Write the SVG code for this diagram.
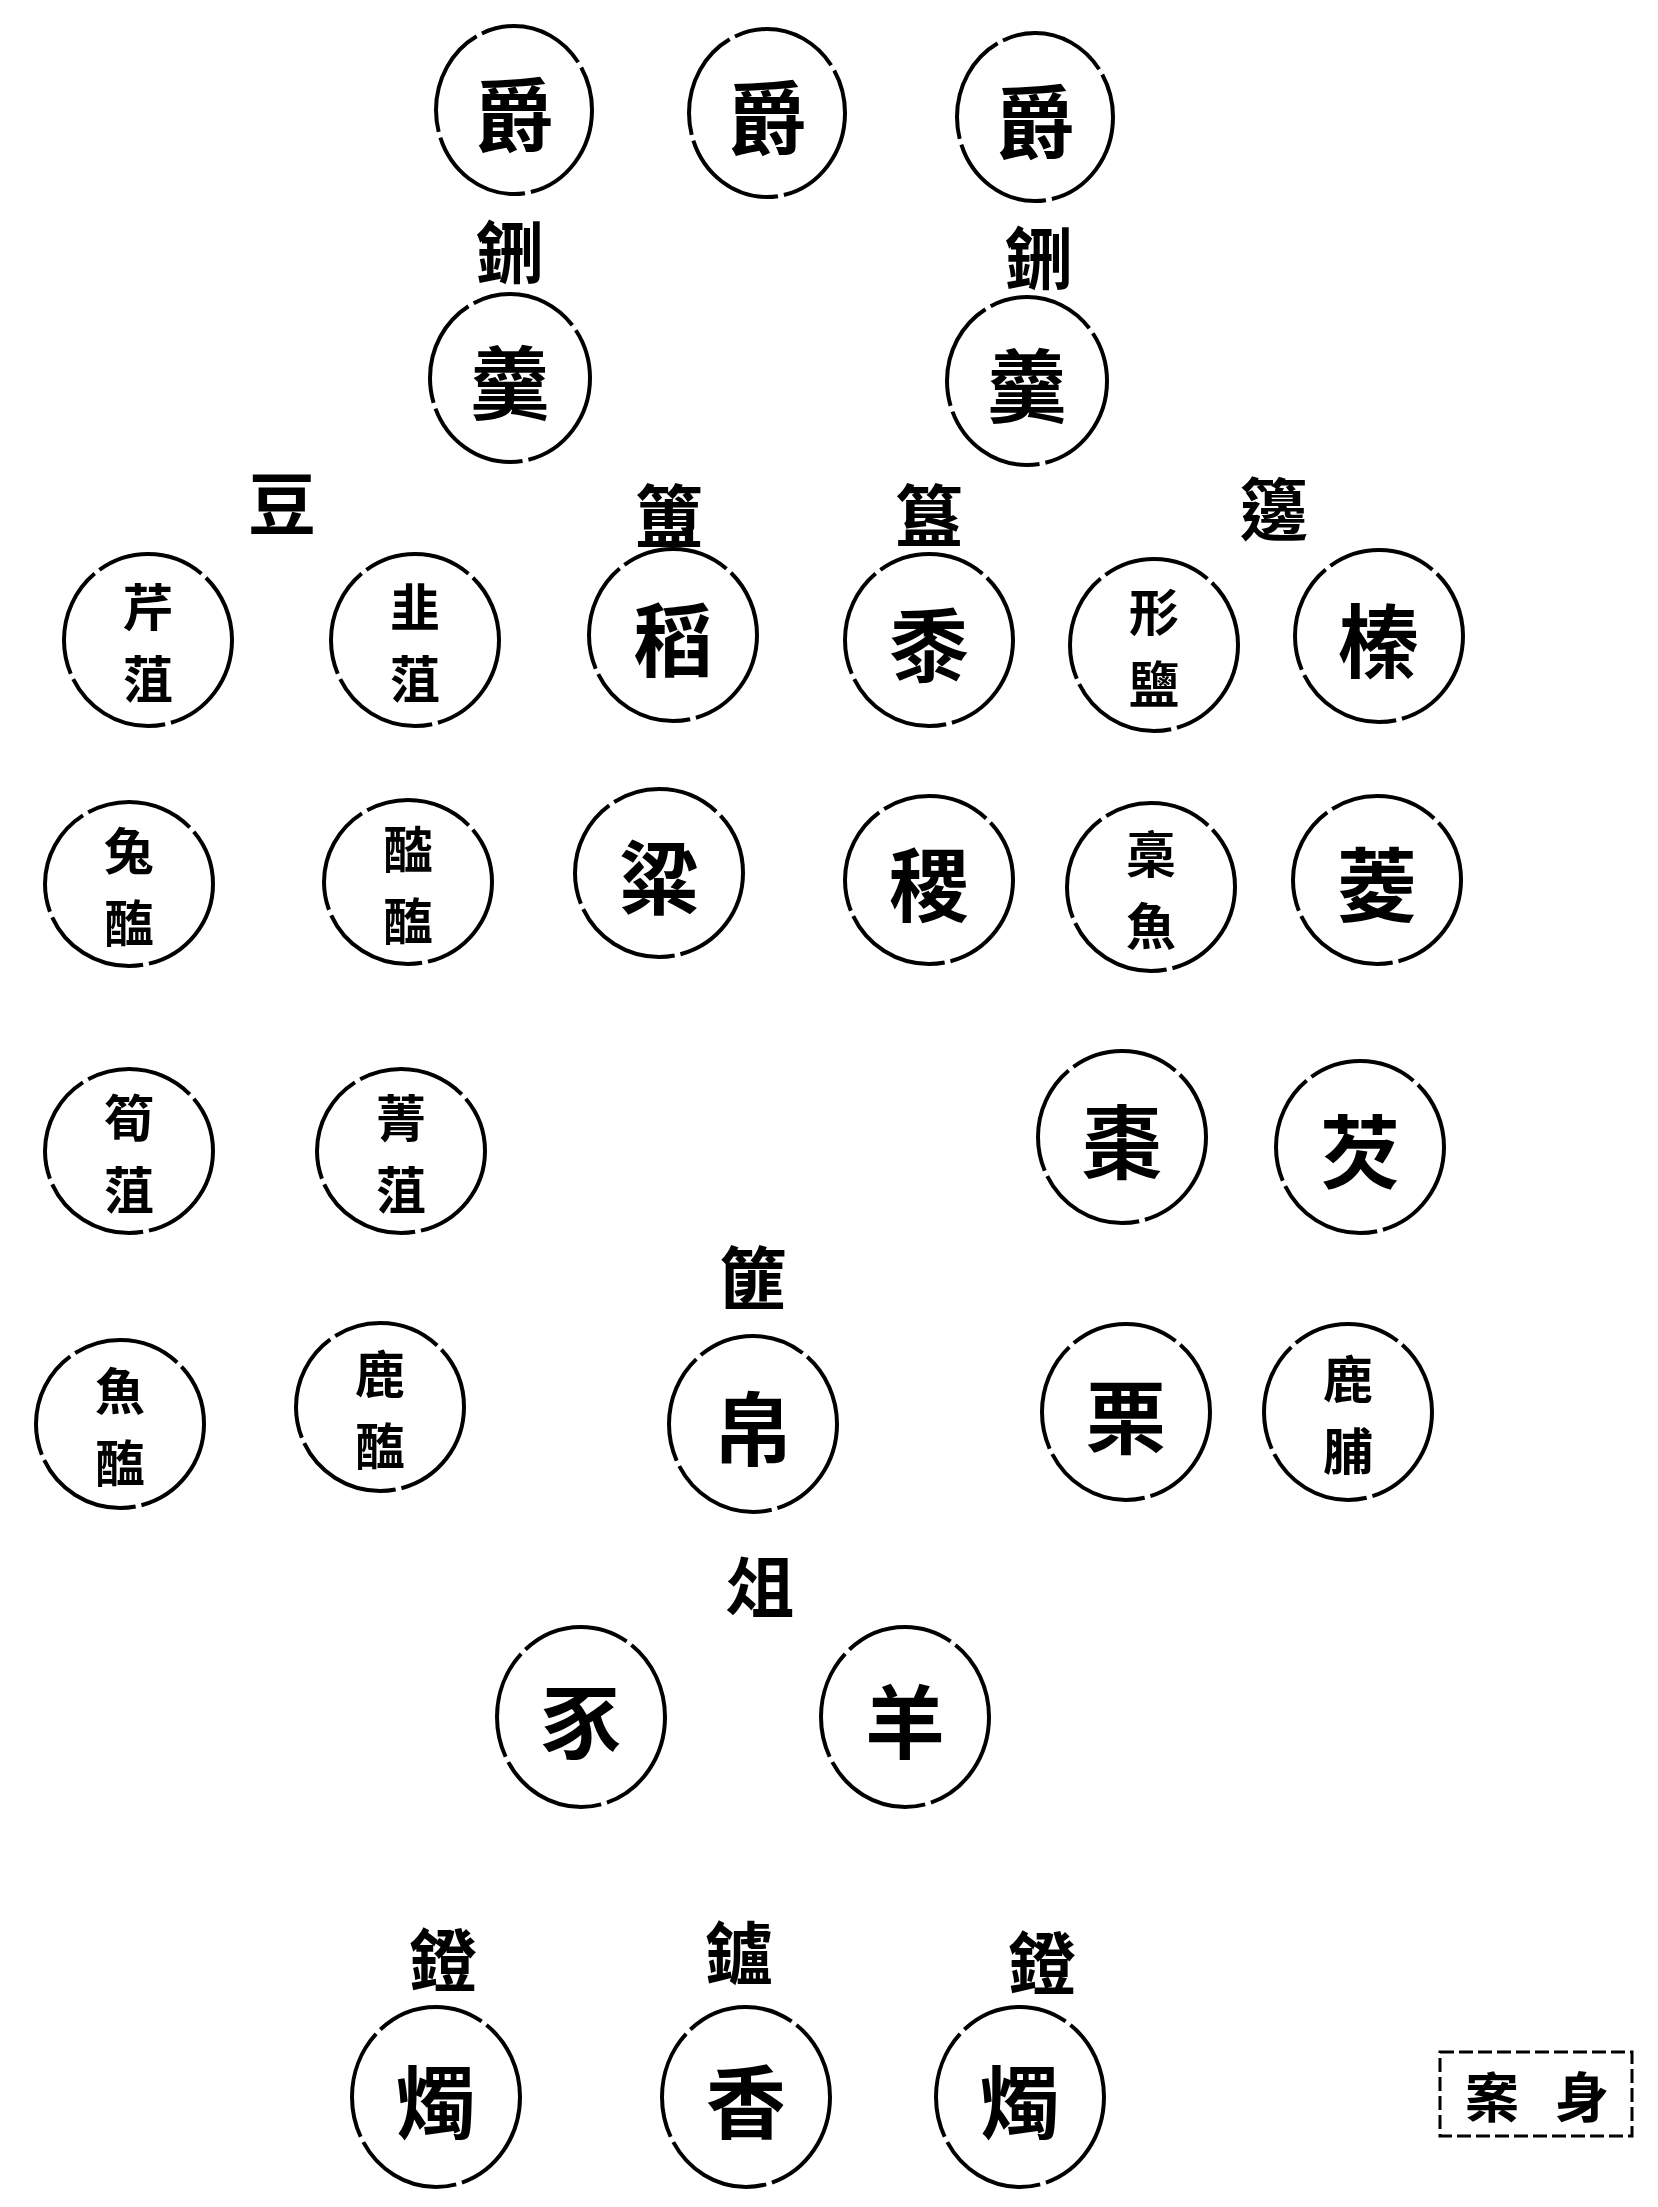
<svg xmlns="http://www.w3.org/2000/svg" width="1658" height="2207" viewBox="0 0 1658 2207">
<style>
.c{fill:none;stroke:#000;stroke-width:4;stroke-dasharray:110 6}
.t{font-family:"Noto Sans CJK TC","Noto Sans CJK SC",sans-serif;font-weight:700;fill:#000;text-anchor:middle;dominant-baseline:central}
.s{font-size:80px}
.d{font-size:50px}
.l{font-size:68px}
</style>
<rect width="1658" height="2207" fill="#fff"/>
<g id="connectors"></g>
<g id="jue1"><ellipse class="c" cx="514" cy="110" rx="78" ry="84"/><text class="t s" x="514" y="110">爵</text></g>
<g id="jue2"><ellipse class="c" cx="767" cy="113" rx="78" ry="84"/><text class="t s" x="767" y="113">爵</text></g>
<g id="jue3"><ellipse class="c" cx="1035" cy="117" rx="78" ry="84"/><text class="t s" x="1035" y="117">爵</text></g>
<g id="label-xing1"><text class="t l" x="510" y="248">鉶</text></g>
<g id="label-xing2"><text class="t l" x="1039" y="254">鉶</text></g>
<g id="geng1"><ellipse class="c" cx="510" cy="378" rx="80" ry="84"/><text class="t s" x="510" y="378">羹</text></g>
<g id="geng2"><ellipse class="c" cx="1027" cy="381" rx="80" ry="84"/><text class="t s" x="1027" y="381">羹</text></g>
<g id="label-dou"><text class="t l" x="282" y="500">豆</text></g>
<g id="label-fu"><text class="t l" x="669" y="512">簠</text></g>
<g id="label-gui"><text class="t l" x="929" y="512">簋</text></g>
<g id="label-bian"><text class="t l" x="1274" y="505">籩</text></g>
<g id="qinzu"><ellipse class="c" cx="148" cy="640" rx="84" ry="86"/><text class="t d" x="148" y="604">芹</text><text class="t d" x="148" y="676">菹</text></g>
<g id="jiuzu"><ellipse class="c" cx="415" cy="640" rx="84" ry="86"/><text class="t d" x="415" y="604">韭</text><text class="t d" x="415" y="676">菹</text></g>
<g id="dao"><ellipse class="c" cx="673" cy="635" rx="84" ry="86"/><text class="t s" x="673" y="635">稻</text></g>
<g id="shu"><ellipse class="c" cx="929" cy="640" rx="84" ry="86"/><text class="t s" x="929" y="640">黍</text></g>
<g id="xingyan"><ellipse class="c" cx="1154" cy="645" rx="84" ry="86"/><text class="t d" x="1154" y="609">形</text><text class="t d" x="1154" y="681">鹽</text></g>
<g id="zhen"><ellipse class="c" cx="1379" cy="636" rx="84" ry="86"/><text class="t s" x="1379" y="636">榛</text></g>
<g id="tuhai"><ellipse class="c" cx="129" cy="884" rx="84" ry="82"/><text class="t d" x="129" y="848">兔</text><text class="t d" x="129" y="920">醢</text></g>
<g id="tanhai"><ellipse class="c" cx="408" cy="882" rx="84" ry="82"/><text class="t d" x="408" y="846">醓</text><text class="t d" x="408" y="918">醢</text></g>
<g id="liang"><ellipse class="c" cx="659" cy="873" rx="84" ry="84"/><text class="t s" x="659" y="873">粱</text></g>
<g id="ji"><ellipse class="c" cx="929" cy="880" rx="84" ry="84"/><text class="t s" x="929" y="880">稷</text></g>
<g id="gaoyu"><ellipse class="c" cx="1151" cy="887" rx="84" ry="84"/><text class="t d" x="1151" y="851">槀</text><text class="t d" x="1151" y="923">魚</text></g>
<g id="ling"><ellipse class="c" cx="1377" cy="880" rx="84" ry="84"/><text class="t s" x="1377" y="880">菱</text></g>
<g id="sunzu"><ellipse class="c" cx="129" cy="1151" rx="84" ry="82"/><text class="t d" x="129" y="1115">筍</text><text class="t d" x="129" y="1187">菹</text></g>
<g id="jingzu"><ellipse class="c" cx="401" cy="1151" rx="84" ry="82"/><text class="t d" x="401" y="1115">菁</text><text class="t d" x="401" y="1187">菹</text></g>
<g id="zao"><ellipse class="c" cx="1122" cy="1137" rx="84" ry="86"/><text class="t s" x="1122" y="1137">棗</text></g>
<g id="qian"><ellipse class="c" cx="1360" cy="1147" rx="84" ry="86"/><text class="t s" x="1360" y="1147">芡</text></g>
<g id="label-fei"><text class="t l" x="753" y="1274">篚</text></g>
<g id="yuhai"><ellipse class="c" cx="120" cy="1424" rx="84" ry="84"/><text class="t d" x="120" y="1388">魚</text><text class="t d" x="120" y="1460">醢</text></g>
<g id="luhai"><ellipse class="c" cx="380" cy="1407" rx="84" ry="84"/><text class="t d" x="380" y="1371">鹿</text><text class="t d" x="380" y="1443">醢</text></g>
<g id="bo"><ellipse class="c" cx="753" cy="1424" rx="84" ry="88"/><text class="t s" x="753" y="1424">帛</text></g>
<g id="li"><ellipse class="c" cx="1126" cy="1412" rx="84" ry="88"/><text class="t s" x="1126" y="1412">栗</text></g>
<g id="lufu"><ellipse class="c" cx="1348" cy="1412" rx="84" ry="88"/><text class="t d" x="1348" y="1376">鹿</text><text class="t d" x="1348" y="1448">脯</text></g>
<g id="label-zu"><text class="t l" x="760" y="1583">俎</text></g>
<g id="shi"><ellipse class="c" cx="581" cy="1717" rx="84" ry="90"/><text class="t s" x="581" y="1717">豕</text></g>
<g id="yang"><ellipse class="c" cx="905" cy="1717" rx="84" ry="90"/><text class="t s" x="905" y="1717">羊</text></g>
<g id="label-deng1"><text class="t l" x="443" y="1956">鐙</text></g>
<g id="label-lu"><text class="t l" x="739" y="1949">鑪</text></g>
<g id="label-deng2"><text class="t l" x="1042" y="1959">鐙</text></g>
<g id="zhu1"><ellipse class="c" cx="436" cy="2097" rx="84" ry="90"/><text class="t s" x="436" y="2097">燭</text></g>
<g id="xiang"><ellipse class="c" cx="746" cy="2097" rx="84" ry="90"/><text class="t s" x="746" y="2097">香</text></g>
<g id="zhu2"><ellipse class="c" cx="1020" cy="2097" rx="84" ry="90"/><text class="t s" x="1020" y="2097">燭</text></g>
<g id="anshen"><rect x="1440" y="2052" width="192" height="84" fill="none" stroke="#000" stroke-width="3" stroke-dasharray="14 5"/><text class="t" style="font-size:54px" x="1492" y="2094">案</text><text class="t" style="font-size:54px" x="1582" y="2094">身</text></g>
</svg>
